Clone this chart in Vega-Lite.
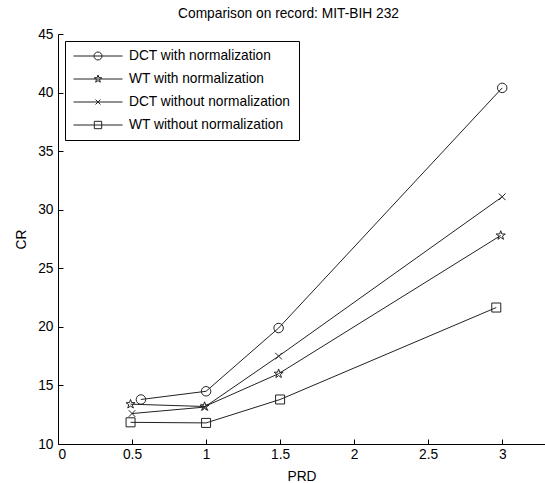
{
  "$schema": "https://vega.github.io/schema/vega-lite/v6.json",
  "autosize": "none",
  "width": 487,
  "height": 410,
  "padding": {"left": 58, "top": 34, "right": 0, "bottom": 39},
  "background": "white",
  "title": {"text": "Comparison on record: MIT-BIH 232", "font": "Liberation Sans", "fontSize": 13.75, "fontWeight": "normal", "color": "black", "anchor": "middle", "dx": -13, "offset": 6},
  "config": {
    "view": {"stroke": null},
    "font": "Liberation Sans",
    "axis": {"grid": false, "domainColor": "black", "domainWidth": 1, "tickColor": "black", "tickWidth": 1, "tickSize": -5, "labelFont": "Liberation Sans", "labelFontSize": 13.75, "labelColor": "black", "titleFont": "Liberation Sans", "titleFontSize": 13.75, "titleFontWeight": "normal", "titleColor": "black"}
  },
  "data": {"values": [
    {"series": "DCT with normalization", "PRD": 0.56, "CR": 13.8},
    {"series": "DCT with normalization", "PRD": 1.0, "CR": 14.5},
    {"series": "DCT with normalization", "PRD": 1.49, "CR": 19.9},
    {"series": "DCT with normalization", "PRD": 3.0, "CR": 40.4},
    {"series": "WT with normalization", "PRD": 0.49, "CR": 13.4},
    {"series": "WT with normalization", "PRD": 0.99, "CR": 13.2},
    {"series": "WT with normalization", "PRD": 1.49, "CR": 16.0},
    {"series": "WT with normalization", "PRD": 2.99, "CR": 27.8},
    {"series": "DCT without normalization", "PRD": 0.5, "CR": 12.6},
    {"series": "DCT without normalization", "PRD": 0.99, "CR": 13.15},
    {"series": "DCT without normalization", "PRD": 1.49, "CR": 17.5},
    {"series": "DCT without normalization", "PRD": 3.0, "CR": 31.1},
    {"series": "WT without normalization", "PRD": 0.49, "CR": 11.85},
    {"series": "WT without normalization", "PRD": 1.0, "CR": 11.8},
    {"series": "WT without normalization", "PRD": 1.5, "CR": 13.8},
    {"series": "WT without normalization", "PRD": 2.96, "CR": 21.65}
  ]},
  "encoding": {
    "x": {"field": "PRD", "type": "quantitative", "scale": {"domain": [0, 3.289], "nice": false, "zero": false},
      "axis": {"values": [0, 0.5, 1, 1.5, 2, 2.5, 3], "format": "~g", "labelPadding": 8, "titlePadding": 9, "title": "PRD"}},
    "y": {"field": "CR", "type": "quantitative", "scale": {"domain": [10, 45], "nice": false, "zero": false},
      "axis": {"values": [10, 15, 20, 25, 30, 35, 40, 45], "labelPadding": 10, "titlePadding": 9, "title": "CR"}}
  },
  "layer": [
    {"mark": {"type": "line", "stroke": "#222", "strokeWidth": 1}, "encoding": {"detail": {"field": "series"}}},
    {"mark": {"type": "point", "filled": false, "stroke": "#222", "strokeWidth": 1, "size": 90, "opacity": 1},
      "encoding": {"shape": {"field": "series", "type": "nominal",
        "scale": {"domain": ["DCT with normalization", "WT with normalization", "DCT without normalization", "WT without normalization"],
          "range": ["circle", "M0,-1L0.235,-0.324L0.951,-0.309L0.38,0.124L0.588,0.809L0,0.4L-0.588,0.809L-0.38,0.124L-0.951,-0.309L-0.235,-0.324Z", "M-0.7,-0.7L0.7,0.7M0.7,-0.7L-0.7,0.7", "M-0.95,-0.95H0.95V0.95H-0.95Z"]},
        "legend": null}}
    },
    {"mark": {"type": "point", "filled": false, "stroke": "#222", "strokeWidth": 1, "size": 2401, "opacity": 0},
      "encoding": {"shape": {"field": "series", "type": "nominal",
        "scale": {"domain": ["DCT with normalization", "WT with normalization", "DCT without normalization", "WT without normalization"],
          "range": ["M-1,0H1M0.163,0A0.163,0.163,0,1,1,-0.163,0A0.163,0.163,0,1,1,0.163,0", "M-1,0H1M0,-0.163L0.038,-0.053L0.155,-0.05L0.062,0.02L0.096,0.132L0,0.065L-0.096,0.132L-0.062,0.02L-0.155,-0.05L-0.038,-0.053Z", "M-1,0H1M-0.1,-0.1L0.1,0.1M0.1,-0.1L-0.1,0.1", "M-1,0H1M-0.15,-0.15H0.15V0.15H-0.15Z"]},
        "legend": {"title": null, "orient": "top-left", "offset": 7, "padding": 8, "strokeColor": "black", "fillColor": "white",
          "labelFont": "Liberation Sans", "labelFontSize": 13.75, "labelColor": "black", "labelLimit": 400,
          "symbolSize": 2401, "symbolStrokeColor": "#222", "symbolFillColor": "transparent", "symbolStrokeWidth": 1, "symbolOpacity": 1,
          "clipHeight": 14, "rowPadding": 9, "labelOffset": 6}
        }}
    }
  ],
  "resolve": {"scale": {"shape": "independent"}, "legend": {"shape": "independent"}}
}
